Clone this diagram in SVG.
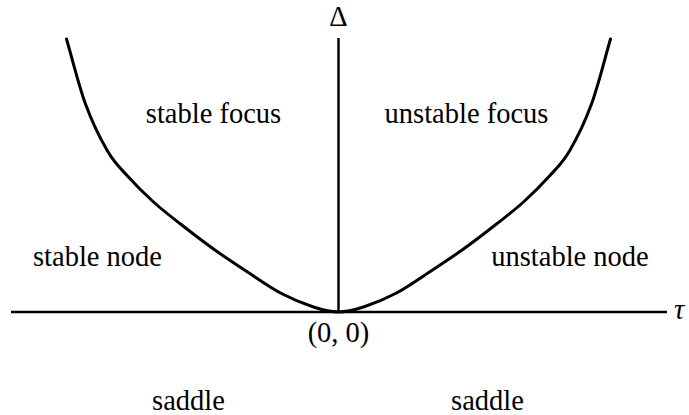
<svg xmlns="http://www.w3.org/2000/svg" width="689" height="415" viewBox="0 0 689 415">
<style>
.lbl{font-family:"Liberation Serif","Times New Roman",serif;font-size:28.5px;fill:#000}
.axis{stroke:#000;stroke-width:2.5;fill:none}
.curve{stroke:#000;stroke-width:3;fill:none;stroke-linecap:round}
</style>
<rect width="689" height="415" fill="#fff"/>
<g id="axes">
<line class="axis" x1="11" y1="312" x2="667" y2="312"/>
<line class="axis" x1="338.5" y1="38" x2="338.5" y2="312"/>
</g>
<g id="curve">
<path class="curve" d="M66.5,39 C72.8,60.7 78.67,85.33 85.5,104 C92.33,122.67 100.5,139 107.5,151 C114.5,163 119.83,167.5 127.5,176 C135.17,184.5 144.67,194 153.5,202 C162.33,210 170.5,216.17 180.5,224 C190.5,231.83 202.33,241 213.5,249 C224.67,257 236.33,264.67 247.5,272 C258.67,279.33 269.5,287.17 280.5,293 C291.5,298.83 303.83,303.83 313.5,307 C323.17,310.17 330.17,312 338.5,312 C346.83,312 353.83,310.17 363.5,307 C373.17,303.83 385.5,298.83 396.5,293 C407.5,287.17 418.33,279.33 429.5,272 C440.67,264.67 452.33,257 463.5,249 C474.67,241 486.5,231.83 496.5,224 C506.5,216.17 514.67,210 523.5,202 C532.33,194 541.83,184.5 549.5,176 C557.17,167.5 562.5,163 569.5,151 C576.5,139 584.67,122.67 591.5,104 C598.33,85.33 604.2,60.7 610.5,39"/>
</g>
<g id="labels">
<text class="lbl" x="338.5" y="26" text-anchor="middle">Δ</text>
<text class="lbl" x="674" y="319" font-style="italic">τ</text>
<text class="lbl" x="213.5" y="123" text-anchor="middle">stable focus</text>
<text class="lbl" x="466.5" y="123" text-anchor="middle">unstable focus</text>
<text class="lbl" x="97.5" y="266" text-anchor="middle">stable node</text>
<text class="lbl" x="570" y="266" text-anchor="middle">unstable node</text>
<text class="lbl" x="338.5" y="342" text-anchor="middle">(0, 0)</text>
<text class="lbl" x="188.5" y="410" text-anchor="middle">saddle</text>
<text class="lbl" x="487.5" y="410" text-anchor="middle">saddle</text>
</g>
</svg>
